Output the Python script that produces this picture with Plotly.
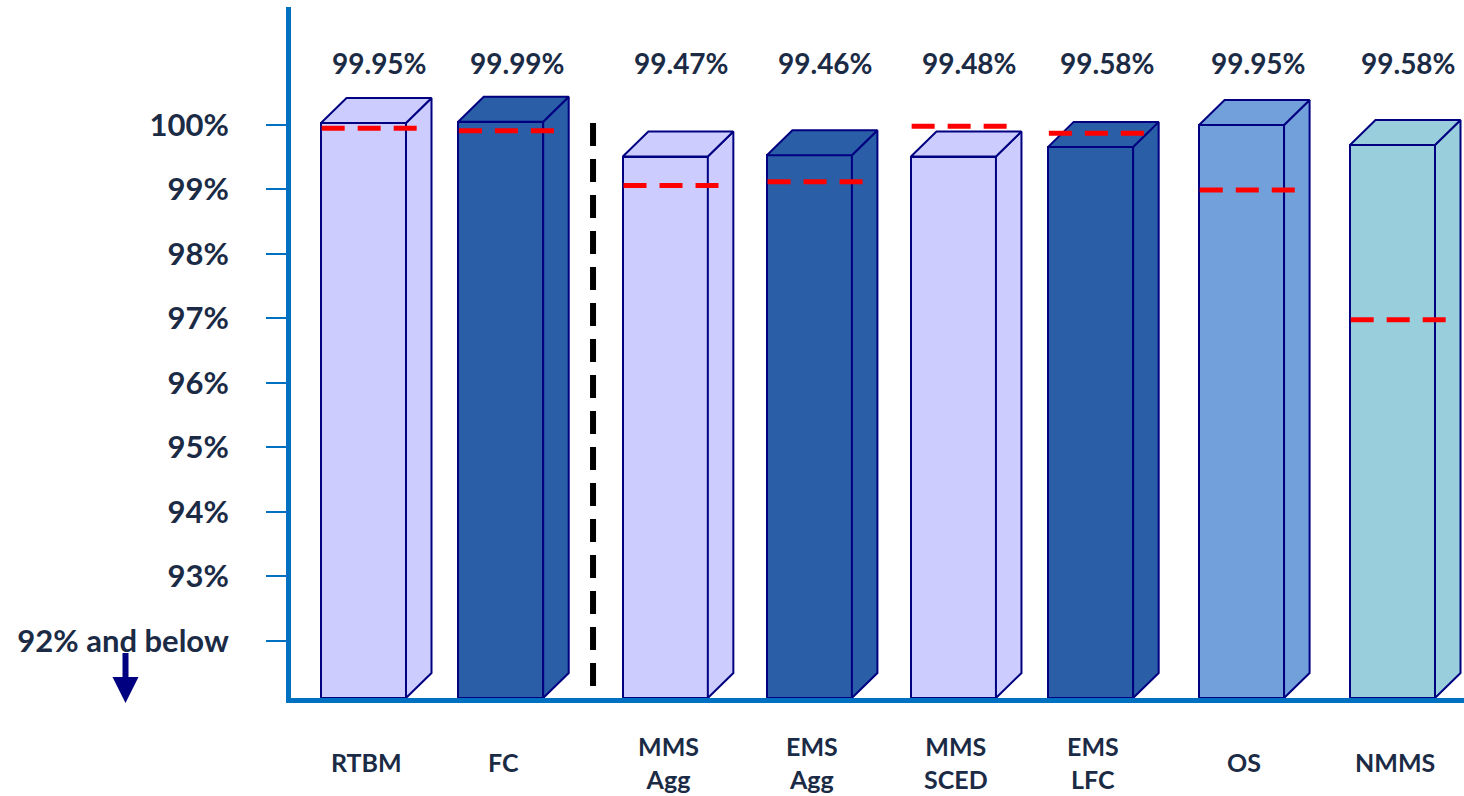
import plotly.graph_objects as go

# ---------------- data ----------------
categories = ["RTBM", "FC", "MMS<br>Agg", "EMS<br>Agg", "MMS<br>SCED", "EMS<br>LFC", "OS", "NMMS"]
value_labels = ["99.95%", "99.99%", "99.47%", "99.46%", "99.48%", "99.58%", "99.95%", "99.58%"]
bar_heights = [100.03, 100.05, 99.51, 99.53, 99.51, 99.66, 100.00, 99.69]   # drawn bar tops (%)
targets = [99.95, 99.91, 99.06, 99.12, 99.98, 99.87, 98.99, 96.98]         # red dashed targets (%)
tick_vals = [92, 93, 94, 95, 96, 97, 98, 99, 100]
tick_text = ["92% and below", "93%", "94%", "95%", "96%", "97%", "98%", "99%", "100%"]

# ---------------- layout / style ----------------
x_pos = [0, 1, 2.2, 3.25, 4.3, 5.3, 6.4, 7.5]
divider_x = 1.673
colors = ["#CCCCFF", "#2A5EA6", "#CCCCFF", "#2A5EA6", "#CCCCFF", "#2A5EA6", "#72A0DA", "#99CFDC"]
edge = "#000080"
text_col = "#1B2B45"
axis_col = "#0070C0"
FONT = "Lato"

Y_MIN, Y_MAX = 91.116, 101.829
X_MIN, X_MAX = -0.5284, 8.0212
BAR_W = 0.6195
DX = 0.186      # depth offset in x units
DY = 0.388      # depth offset in y units

PLOT_L, PLOT_T, PLOT_W, PLOT_H = 291, 7, 1173, 691

fig = go.Figure()

# front faces
fig.add_trace(go.Bar(
    x=x_pos, y=[h - Y_MIN for h in bar_heights], base=Y_MIN, width=BAR_W,
    marker=dict(color=colors, line=dict(color=edge, width=2)),
    hoverinfo="skip", showlegend=False,
))

# side & top faces
for xc, h, c in zip(x_pos, bar_heights, colors):
    xl, xr = xc - BAR_W / 2, xc + BAR_W / 2
    fig.add_trace(go.Scatter(
        x=[xr, xr + DX, xr + DX, xr, xr],
        y=[Y_MIN, Y_MIN + DY, h + DY, h, Y_MIN],
        mode="lines", fill="toself", fillcolor=c,
        line=dict(color=edge, width=2), hoverinfo="skip", showlegend=False,
    ))
    fig.add_trace(go.Scatter(
        x=[xl, xl + DX, xr + DX, xr, xl],
        y=[h, h + DY, h + DY, h, h],
        mode="lines", fill="toself", fillcolor=c,
        line=dict(color=edge, width=2), hoverinfo="skip", showlegend=False,
    ))

# red dashed target lines
for xc, t in zip(x_pos, targets):
    xl = xc - BAR_W / 2
    fig.add_trace(go.Scatter(
        x=[xl + 0.005, xl + 0.712], y=[t, t], mode="lines",
        line=dict(color="#FF0000", width=5, dash="23px,13px"),
        hoverinfo="skip", showlegend=False,
    ))

# divider
fig.add_shape(type="line", xref="x", yref="y", x0=divider_x, x1=divider_x,
              y0=100.03, y1=91.18, line=dict(color="black", width=6, dash="23px,13px"))


def px_to_paper_x(px):
    return (px - PLOT_L) / float(PLOT_W)


def py_to_paper_y(py):
    return (PLOT_T + PLOT_H - py) / float(PLOT_H)


annotations = []
for xc, lab in zip(x_pos, value_labels):
    annotations.append(dict(x=xc + 0.12, y=100.96, xref="x", yref="y", text="<b>%s</b>" % lab,
                            showarrow=False, font=dict(family=FONT, size=28, color=text_col),
                            xanchor="center", yanchor="middle"))
for xc, lab in zip(x_pos, categories):
    annotations.append(dict(x=xc + 0.02, y=py_to_paper_y(762), xref="x", yref="paper",
                            text="<b>%s</b>" % lab,
                            showarrow=False, font=dict(family=FONT, size=25, color=text_col),
                            xanchor="center", yanchor="middle"))

# down arrow under "92% and below"
fig.add_shape(type="line", xref="paper", yref="paper",
              x0=px_to_paper_x(125.5), x1=px_to_paper_x(125.5),
              y0=py_to_paper_y(653), y1=py_to_paper_y(680),
              line=dict(color=edge, width=6))
fig.add_shape(type="path", xref="paper", yref="paper",
              path="M %f,%f L %f,%f L %f,%f Z" % (
                  px_to_paper_x(112.5), py_to_paper_y(677), px_to_paper_x(138.5), py_to_paper_y(677),
                  px_to_paper_x(125.5), py_to_paper_y(703)),
              fillcolor=edge, line=dict(color=edge, width=0))

fig.update_layout(
    width=1464, height=796,
    margin=dict(l=PLOT_L, r=0, t=PLOT_T, b=796 - PLOT_T - PLOT_H),
    paper_bgcolor="white", plot_bgcolor="white",
    bargap=0, annotations=annotations,
    xaxis=dict(range=[X_MIN, X_MAX], showgrid=False, zeroline=False, showticklabels=False,
               ticks="", showline=True, linecolor=axis_col, linewidth=5, fixedrange=True),
    yaxis=dict(range=[Y_MIN, Y_MAX], showgrid=False, zeroline=False,
               tickvals=tick_vals, ticktext=["<b>%s</b>" % t for t in tick_text],
               ticks="outside", ticklen=20, tickwidth=2, tickcolor=axis_col,
               ticklabelstandoff=31,
               tickfont=dict(family=FONT, size=31, color=text_col),
               showline=True, linecolor=axis_col, linewidth=5, fixedrange=True),
    showlegend=False,
)

fig.write_html("out.html")
